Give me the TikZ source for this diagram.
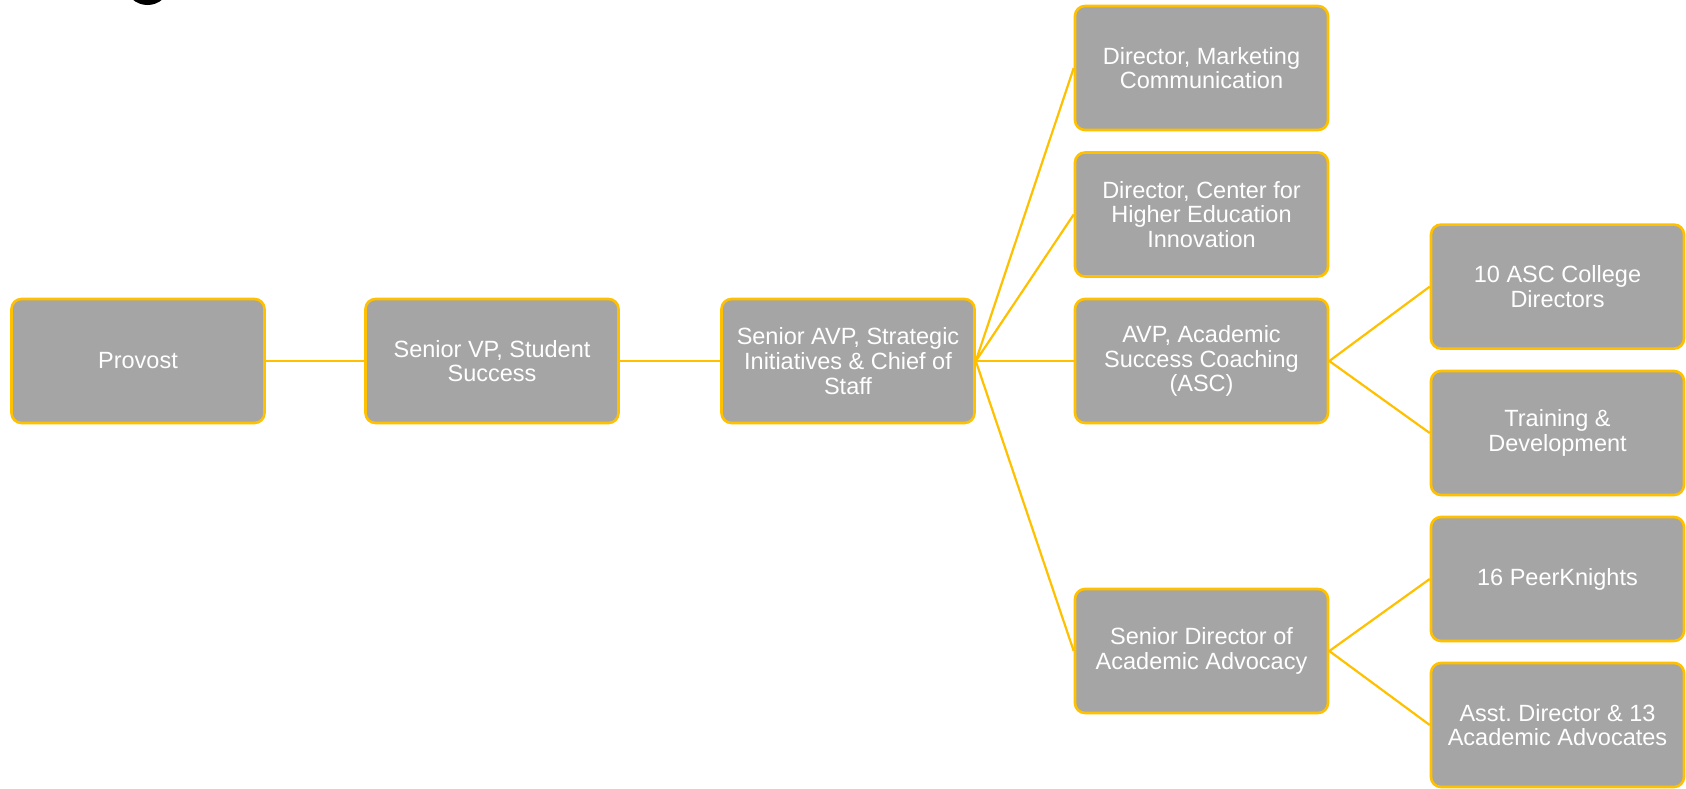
\documentclass[tikz,border=0pt]{standalone}
\usepackage{fontspec}
\setmainfont{Liberation Sans}
\frenchspacing
\definecolor{boxgray}{HTML}{A5A5A5}
\definecolor{gold}{HTML}{FFC000}
\begin{document}
\begin{tikzpicture}[x=1pt,y=-1pt,
  orgbox/.style={rectangle, rounded corners=10pt, fill=boxgray, draw=gold, line width=2.6pt,
    minimum width=253pt, minimum height=124pt, inner sep=0pt, align=center,
    text=white, font=\fontsize{23.5}{24.7}\selectfont},
  link/.style={draw=gold, line width=2.2pt}]
\useasboundingbox (0,0) rectangle (1686,788);
\begin{scope}
\clip (0,0) rectangle (1686,788);
\fill[black] (147.5,-14) ellipse (21pt and 19pt);

\node[orgbox] (prov) at (138,361) {Provost};
\node[orgbox] (svp) at (492,361) {Senior VP, Student\\Success};
\node[orgbox] (savp) at (848,361) {Senior AVP, Strategic\\Initiatives \& Chief of\\Staff};
\node[orgbox] (mkt) at (1201.5,68) {Director, Marketing\\Communication};
\node[orgbox] (ctr) at (1201.5,214.5) {Director, Center for\\Higher Education\\Innovation};
\node[orgbox] (asc) at (1201.5,361) {AVP, Academic\\Success Coaching\\(ASC)};
\node[orgbox] (sda) at (1201.5,651) {Senior Director of\\Academic Advocacy};
\node[orgbox] (col) at (1557.5,286.6) {10 ASC College\\Directors};
\node[orgbox] (trn) at (1557.5,433) {Training \&\\Development};
\node[orgbox] (peer) at (1557.5,579) {16 PeerKnights};
\node[orgbox] (adv) at (1557.5,725) {Asst. Director \& 13\\Academic Advocates};

\draw[link] (prov.east) -- (svp.west);
\draw[link] (svp.east) -- (savp.west);
\draw[link] (savp.east) -- (mkt.west);
\draw[link] (savp.east) -- (ctr.west);
\draw[link] (savp.east) -- (asc.west);
\draw[link] (savp.east) -- (sda.west);
\draw[link] (asc.east) -- (col.west);
\draw[link] (asc.east) -- (trn.west);
\draw[link] (sda.east) -- (peer.west);
\draw[link] (sda.east) -- (adv.west);
\end{scope}
\end{tikzpicture}
\end{document}
